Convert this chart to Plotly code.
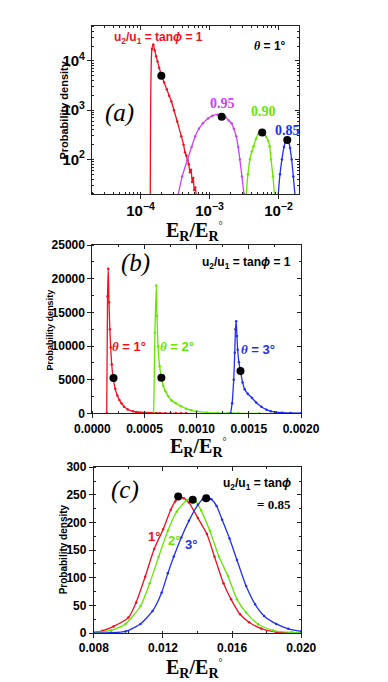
import plotly.graph_objects as go

W, H = 388, 682
SANS = "Liberation Sans, Arial, sans-serif"
SERIF = "Liberation Serif, Times New Roman, serif"

C_RED = "#f01020"
C_MAG = "#cc44ee"
C_GRN = "#66e600"
C_BLU = "#2030ee"

# ---------------- data ----------------
# theta = 1 deg, tan(phi) = 1  (panels a and b)
red1_x = [1.38e-4, 1.46e-4, 1.53e-4, 1.60e-4, 1.68e-4, 1.76e-4, 1.86e-4, 2.0e-4, 2.2e-4, 2.4e-4,
          2.6e-4, 2.8e-4, 3.05e-4, 3.4e-4, 3.9e-4, 4.2e-4, 4.4e-4, 4.6e-4, 4.8e-4, 5.0e-4,
          5.2e-4, 5.4e-4, 5.6e-4, 5.8e-4, 6.0e-4, 6.2e-4, 6.5e-4, 7.0e-4, 7.5e-4, 8.0e-4,
          8.5e-4, 9.0e-4]
red1_y = [1, 17400, 21500, 16500, 12500, 9800, 7300, 5200, 3650, 2650,
          1970, 1500, 1000, 590, 295, 200, 140, 120, 95, 80,
          55, 62, 35, 42, 24, 27, 16, 9, 6, 4,
          2, 1]

# panel a: other tan(phi) values, theta = 1 deg
mag95_x = [3.5e-4, 4.0e-4, 4.8e-4, 5.5e-4, 6.2e-4, 7.0e-4, 8.0e-4, 9.5e-4, 1.1e-3, 1.3e-3,
           1.5e-3, 1.7e-3, 1.9e-3, 2.09e-3, 2.25e-3, 2.44e-3, 2.6e-3, 2.75e-3, 2.95e-3, 3.15e-3, 3.3e-3]
mag95_y = [19, 45, 100, 180, 295, 420, 542, 680, 770, 810,
           790, 720, 620, 542, 420, 295, 180, 100, 45, 20, 10]

grn90_x = [3.4e-3, 3.6e-3, 3.85e-3, 4.1e-3, 4.35e-3, 4.7e-3, 5.1e-3, 5.6e-3, 6.1e-3, 6.6e-3,
           7.1e-3, 7.45e-3, 7.8e-3, 8.3e-3, 8.75e-3]
grn90_y = [19, 50, 100, 145, 185, 260, 330, 365, 345, 290,
           240, 185, 100, 45, 19]

blu85_x = [9.9e-3, 1.05e-2, 1.12e-2, 1.2e-2, 1.28e-2, 1.34e-2, 1.40e-2, 1.47e-2, 1.55e-2, 1.64e-2, 1.73e-2]
blu85_y = [19, 50, 100, 180, 245, 265, 235, 170, 100, 45, 19]

dots_a_x = [2.0e-4, 1.5e-3, 5.8e-3, 1.34e-2]
dots_a_y = [5000, 740, 353, 248]

# panel b: tan(phi) = 1, theta = 2 and 3 deg
grn2_x = [5.88e-4, 6.00e-4, 6.13e-4, 6.20e-4, 6.30e-4, 6.45e-4, 6.62e-4, 6.80e-4, 7.00e-4, 7.30e-4,
          7.60e-4, 8.00e-4, 8.50e-4, 9.00e-4, 9.50e-4, 1.00e-3, 1.10e-3, 1.20e-3, 1.30e-3, 1.40e-3, 1.60e-3]
grn2_y = [1, 12000, 19000, 14500, 9960, 7000, 5300, 4100, 3300, 2500,
          1900, 1500, 1050, 700, 450, 280, 120, 50, 20, 8, 2]

blu3_x = [1.325e-3, 1.340e-3, 1.355e-3, 1.365e-3, 1.372e-3, 1.379e-3, 1.386e-3, 1.393e-3, 1.405e-3, 1.420e-3,
          1.440e-3, 1.460e-3, 1.490e-3, 1.530e-3, 1.570e-3, 1.620e-3, 1.670e-3, 1.710e-3, 1.760e-3, 1.820e-3,
          1.900e-3, 2.000e-3]
blu3_y = [1, 1500, 5000, 9000, 12500, 13700, 11500, 9460, 7600, 6300,
          4600, 3600, 2900, 2300, 1600, 980, 550, 300, 180, 100,
          60, 30]

dots_b_x = [2.03e-4, 6.62e-4, 1.42e-3]
dots_b_y = [5240, 5300, 6300]

# panel c: tan(phi) = 0.85, theta = 1, 2, 3 deg
c1_x = [0.0080, 0.0085, 0.00914, 0.0100, 0.01044, 0.01097, 0.01149, 0.01201, 0.01245, 0.01270,
        0.01295, 0.01320, 0.01350, 0.01402, 0.01454, 0.01498, 0.01550, 0.01594, 0.01646, 0.01698,
        0.01768, 0.01855, 0.0194, 0.0200]
c1_y = [1, 4, 12, 28, 55, 102, 152, 188, 223, 238,
        245, 244, 236, 208, 179, 138, 90, 61, 34, 19.5,
        8, 1.6, 0.5, 0]

c2_x = [0.0080, 0.0090, 0.00983, 0.0107, 0.01123, 0.01175, 0.01228, 0.0128, 0.01332, 0.01360,
        0.01390, 0.0142, 0.01471, 0.01524, 0.01576, 0.01628, 0.01681, 0.0175, 0.01838, 0.0195, 0.0200]
c2_y = [0.5, 5, 16.5, 49, 90, 138, 185, 220, 239, 243,
        238, 222, 185, 138, 103, 61, 37, 16, 4.5, 1, 0.5]

c3_x = [0.0080, 0.0090, 0.00983, 0.0107, 0.0114, 0.01192, 0.01228, 0.01262, 0.01306, 0.0135,
        0.01402, 0.01430, 0.01455, 0.01480, 0.01510, 0.01542, 0.01585, 0.01628, 0.01681, 0.01733,
        0.01785, 0.01855, 0.01925, 0.0200]
c3_y = [0, 0.5, 3, 16.5, 40, 73, 108, 138, 173, 203,
        232, 242, 246, 242, 230, 205, 171, 132, 85, 52,
        31, 16.5, 7.7, 3]

dots_c_x = [0.01288, 0.01372, 0.0145]
dots_c_y = [247, 241, 244]

# ---------------- figure ----------------
fig = go.Figure()


def curve(x, y, color, ax):
    fig.add_trace(go.Scatter(x=x, y=y, mode="lines+markers", xaxis=ax[0], yaxis=ax[1],
                             line=dict(color=color, width=1.3, shape="spline", smoothing=0.6),
                             marker=dict(color=color, size=2.5), showlegend=False,
                             hoverinfo="skip"))


def dots(x, y, ax):
    fig.add_trace(go.Scatter(x=x, y=y, mode="markers", xaxis=ax[0], yaxis=ax[1],
                             marker=dict(color="black", size=8), showlegend=False,
                             hoverinfo="skip"))


A = ("x", "y")
B = ("x2", "y2")
Cc = ("x3", "y3")

curve(red1_x, red1_y, C_RED, A)
curve(mag95_x, mag95_y, C_MAG, A)
curve(grn90_x, grn90_y, C_GRN, A)
curve(blu85_x, blu85_y, C_BLU, A)
dots(dots_a_x, dots_a_y, A)

curve(red1_x, red1_y, C_RED, B)
curve(grn2_x, grn2_y, C_GRN, B)
curve(blu3_x, blu3_y, C_BLU, B)
dots(dots_b_x, dots_b_y, B)

curve(c1_x, c1_y, C_RED, Cc)
curve(c2_x, c2_y, C_GRN, Cc)
curve(c3_x, c3_y, C_BLU, Cc)
dots(dots_c_x, dots_c_y, Cc)

# invisible traces so the top/right tick axes are drawn
for xa, ya in (("x4", "y4"), ("x5", "y5"), ("x6", "y6")):
    fig.add_trace(go.Scatter(x=[], y=[], xaxis=xa, yaxis=ya, showlegend=False, hoverinfo="skip"))


def px(v):
    return v / W


def py(v):
    return 1 - v / H


tickfont = dict(family=SANS, size=12, color="black", weight="bold")
common = dict(showline=True, linecolor="#222", linewidth=1, mirror=True,
              ticks="outside", ticklen=4, tickwidth=1, tickcolor="#222",
              showgrid=False, zeroline=False, tickfont=tickfont)
mirror_ax = dict(showline=False, ticks="inside", ticklen=4, tickwidth=1, tickcolor="#222",
                 showgrid=False, zeroline=False, showticklabels=False)
mnr = dict(ticks="inside", ticklen=2, tickcolor="#222")

fig.update_layout(
    width=W, height=H, margin=dict(l=0, r=0, t=0, b=0),
    paper_bgcolor="white", plot_bgcolor="white", showlegend=False,
    # panel (a)
    xaxis=dict(domain=[px(73.3), px(302)], anchor="y", type="log", range=[-4.7, -1.7],
               dtick=1, exponentformat="power", minor=mnr, **common),
    yaxis=dict(domain=[py(182.7), py(11.7)], anchor="x", type="log", range=[1.3, 4.7],
               dtick=1, exponentformat="power", minor=mnr, **common),
    xaxis4=dict(overlaying="x", domain=[px(73.3), px(302)], anchor="y", side="top", type="log",
                range=[-4.7, -1.7], dtick=1, minor=mnr, **mirror_ax),
    yaxis4=dict(overlaying="y", domain=[py(182.7), py(11.7)], anchor="x", side="right", type="log",
                range=[1.3, 4.7], dtick=1, minor=mnr, **mirror_ax),
    # panel (b)
    xaxis2=dict(domain=[px(73.3), px(304)], anchor="y2", range=[0, 0.002],
                tickvals=[0, 0.0005, 0.001, 0.0015, 0.002],
                ticktext=["0.0000", "0.0005", "0.0010", "0.0015", "0.0020"],
                minor=dict(dtick=0.00025, **mnr), **common),
    yaxis2=dict(domain=[py(406.7), py(235)], anchor="x2", range=[0, 25000], dtick=5000,
                tickformat="d", minor=dict(dtick=2500, **mnr), **common),
    xaxis5=dict(overlaying="x2", domain=[px(73.3), px(304)], anchor="y2", side="top",
                range=[0, 0.002], dtick=0.0005, minor=dict(dtick=0.00025, **mnr), **mirror_ax),
    yaxis5=dict(overlaying="y2", domain=[py(406.7), py(235)], anchor="x2", side="right",
                range=[0, 25000], dtick=5000, minor=dict(dtick=2500, **mnr), **mirror_ax),
    # panel (c)
    xaxis3=dict(domain=[px(75), px(304.3)], anchor="y3", range=[0.008, 0.020], dtick=0.004,
                tick0=0.008, tickformat=".3f", minor=dict(dtick=0.002, **mnr), **common),
    yaxis3=dict(domain=[py(631), py(461.7)], anchor="x3", range=[0, 300], dtick=50,
                minor=dict(dtick=25, **mnr), **common),
    xaxis6=dict(overlaying="x3", domain=[px(75), px(304.3)], anchor="y3", side="top",
                range=[0.008, 0.020], dtick=0.004, tick0=0.008, minor=dict(dtick=0.002, **mnr),
                **mirror_ax),
    yaxis6=dict(overlaying="y3", domain=[py(631), py(461.7)], anchor="x3", side="right",
                range=[0, 300], dtick=50, minor=dict(dtick=25, **mnr), **mirror_ax),
)

ann = []


def text(x, y, s, size=12, color="black", family=SANS, bold=True, angle=0,
         xanchor="center", yanchor="middle"):
    ann.append(dict(x=px(x), y=py(y), xref="paper", yref="paper", text=s, showarrow=False,
                    xanchor=xanchor, yanchor=yanchor, textangle=angle,
                    font=dict(family=family, size=size, color=color,
                              weight="bold" if bold else "normal")))


XT = "E<sub>R</sub>/E<sub>R</sub><sup><span style='font-size:10px;font-weight:normal'>°</span></sup>"
TH = "<span style='font-family:Liberation Serif'><i>θ</i></span>"
TANPHI = "u<sub>2</sub>/u<sub>1</sub> = tan<i>ϕ</i>"

# x-axis titles
for xx, yy in ((186, 206), (191, 427), (186, 652)):
    text(xx, yy, XT, size=20, family=SERIF, yanchor="top")

# y-axis titles
text(41.5, 97, "Probability density", size=11, angle=-90)
text(26.5, 321, "Probability density", size=9, angle=-90)
text(41.5, 546, "Probability density", size=10, angle=-90)

# panel a
text(146, 23, TANPHI + " = 1", size=12, color=C_RED)
text(270, 32, TH + " = 1°", size=12)
text(85, 100, "<i>(a)</i>", size=25, family=SERIF, bold=False, xanchor="left")
text(217, 90, "0.95", size=14, color=C_MAG, family=SERIF)
text(262, 99, "0.90", size=14, color=C_GRN, family=SERIF)
text(289, 118, "0.85", size=14, color=C_BLU, family=SERIF)

# panel b
text(103, 253, "<i>(b)</i>", size=25, family=SERIF, bold=False, xanchor="left")
text(244, 253, TANPHI + " = 1", size=12)
text(114, 338, TH + " = 1°", size=13, color=C_RED)
text(167, 338, TH + " = 2°", size=13, color=C_GRN)
text(257, 342, TH + " = 3°", size=13, color=C_BLU)

# panel c
text(92, 485, "<i>(c)</i>", size=25, family=SERIF, bold=False, xanchor="left")
text(295, 479, TANPHI, size=12, xanchor="right")
text(295, 500, "= 0.85", size=13, family=SERIF, xanchor="right")
text(141, 532, "1°", size=13, color=C_RED)
text(164, 537, "2°", size=13, color=C_GRN)
text(182, 541, "3°", size=13, color=C_BLU)

fig.update_layout(annotations=ann)
fig.write_html("out.html")
